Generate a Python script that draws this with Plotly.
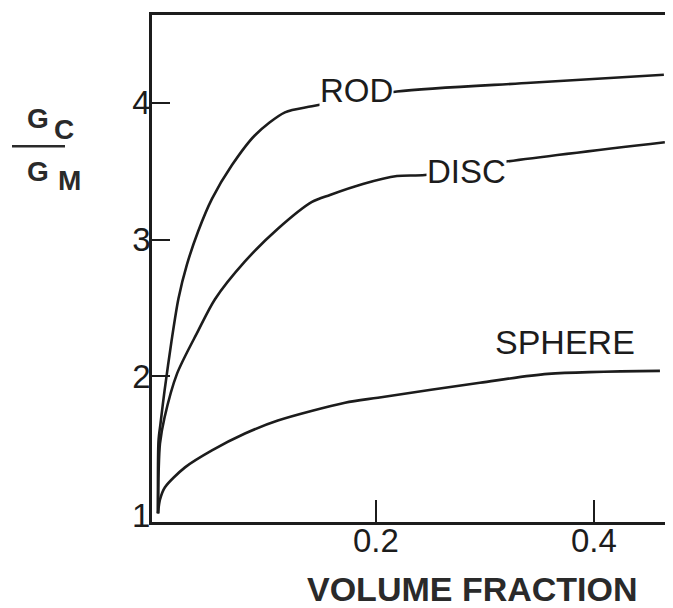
import plotly.graph_objects as go

# ---- data ----
rod_x = [0, 0.0005, 0.0023, 0.0060, 0.0124, 0.0188, 0.0266, 0.0367, 0.0495, 0.0679, 0.089, 0.1165, 0.1413, 0.2193, 0.342, 0.4642]
rod_y = [1.0, 1.531, 1.656, 1.895, 2.258, 2.570, 2.818, 3.057, 3.297, 3.544, 3.762, 3.929, 3.973, 4.081, 4.145, 4.204]

disc_x = [0, 0.0006, 0.0018, 0.0060, 0.0174, 0.0367, 0.0523, 0.0798, 0.110, 0.1413, 0.1578, 0.188, 0.2193, 0.245, 0.3156, 0.4651]
disc_y = [1.0, 1.312, 1.509, 1.700, 2.019, 2.331, 2.564, 2.840, 3.079, 3.275, 3.326, 3.406, 3.464, 3.471, 3.565, 3.711]

sphere_x = [0, 0.0018, 0.0064, 0.0248, 0.0495, 0.0798, 0.110, 0.1716, 0.2018, 0.2954, 0.3578, 0.4606]
sphere_y = [1.0, 1.10, 1.191, 1.336, 1.460, 1.583, 1.678, 1.808, 1.845, 1.954, 2.019, 2.041]

curve_labels = ["ROD", "DISC", "SPHERE"]
label_pos = [(0.1817, 4.085), (0.2835, 3.50), (0.3734, 2.255)]
label_sizes = [33, 33, 34]

x_ticks = [0.2, 0.4]
x_tick_text = ["0.2", "0.4"]
y_ticks = [2, 3, 4]
y_tick_text = ["2", "3", "4"]

INK = "#1c1c1c"
OFF = 8                      # page body margin of the html output
W, H = 665, 600
L, R, T, B = 144, 5, 4, 86
PW, PH = W - L - R, H - T - B
FONT = "Liberation Sans, Arial, sans-serif"


def paper(px, py):
    """screen pixel of the reference -> paper coords"""
    return (px - OFF - L) / PW, (H - B - (py - OFF)) / PH


fig = go.Figure()
for xs, ys in [(rod_x, rod_y), (disc_x, disc_y), (sphere_x, sphere_y)]:
    fig.add_trace(go.Scatter(x=xs, y=ys, mode="lines",
                             line=dict(color=INK, width=2.6, shape="spline", smoothing=0.8),
                             showlegend=False, hoverinfo="skip"))

for txt, (lx, ly), sz in zip(curve_labels, label_pos, label_sizes):
    fig.add_annotation(x=lx, y=ly, xref="x", yref="y", text=txt, showarrow=False,
                       xanchor="center", yanchor="middle", bgcolor="white",
                       borderpad=0, font=dict(family=FONT, size=sz, color=INK))

# y = 1 tick label (drawn without a tick mark, as in the reference)
ax, ay = paper(141, 515)
fig.add_annotation(x=ax, y=ay, xref="paper", yref="paper", text="1", showarrow=False,
                   xanchor="center", yanchor="middle", font=dict(family=FONT, size=33, color=INK))

# x-axis title
tx, ty = paper(472, 589)
fig.add_annotation(x=tx, y=ty, xref="paper", yref="paper", text="<b>VOLUME FRACTION</b>",
                   showarrow=False, xanchor="center", yanchor="middle",
                   font=dict(family=FONT, size=34, color="#2a2a2a"))

# y-axis title: G_C / G_M
yt_font = dict(family=FONT, size=28, color="#2a2a2a")
for txt, (px, py) in [("<b>G</b>", (38, 116)), ("<b>C</b>", (64, 127)),
                      ("<b>G</b>", (38, 169)), ("<b>M</b>", (69, 178))]:
    gx, gy = paper(px, py)
    fig.add_annotation(x=gx, y=gy, xref="paper", yref="paper", text=txt, showarrow=False,
                       xanchor="center", yanchor="middle", font=yt_font)
x0, y0 = paper(12, 144)
x1, _ = paper(65, 144)
fig.add_shape(type="line", xref="paper", yref="paper", x0=x0, x1=x1, y0=y0, y1=y0,
              line=dict(color="#2a2a2a", width=2.5))

tick_font = dict(family=FONT, size=33, color=INK)
fig.update_xaxes(range=[-0.0055, 0.468], tickvals=x_ticks, ticktext=x_tick_text,
                 ticks="inside", ticklen=22, tickwidth=2, tickcolor=INK,
                 showline=True, linecolor=INK, linewidth=2.5, mirror=True,
                 showgrid=False, zeroline=False, tickfont=tick_font,
                 ticklabelstandoff=-12)
fig.update_yaxes(range=[0.937, 4.64], tickvals=y_ticks, ticktext=y_tick_text,
                 ticks="inside", ticklen=18, tickwidth=2, tickcolor=INK,
                 showline=True, linecolor=INK, linewidth=2.5, mirror=False,
                 showgrid=False, zeroline=False, tickfont=tick_font,
                 ticklabelstandoff=-8)

fig.update_layout(width=W, height=H, margin=dict(l=L, r=R, t=T, b=B),
                  paper_bgcolor="white", plot_bgcolor="white")

fig.write_html("out.html")
